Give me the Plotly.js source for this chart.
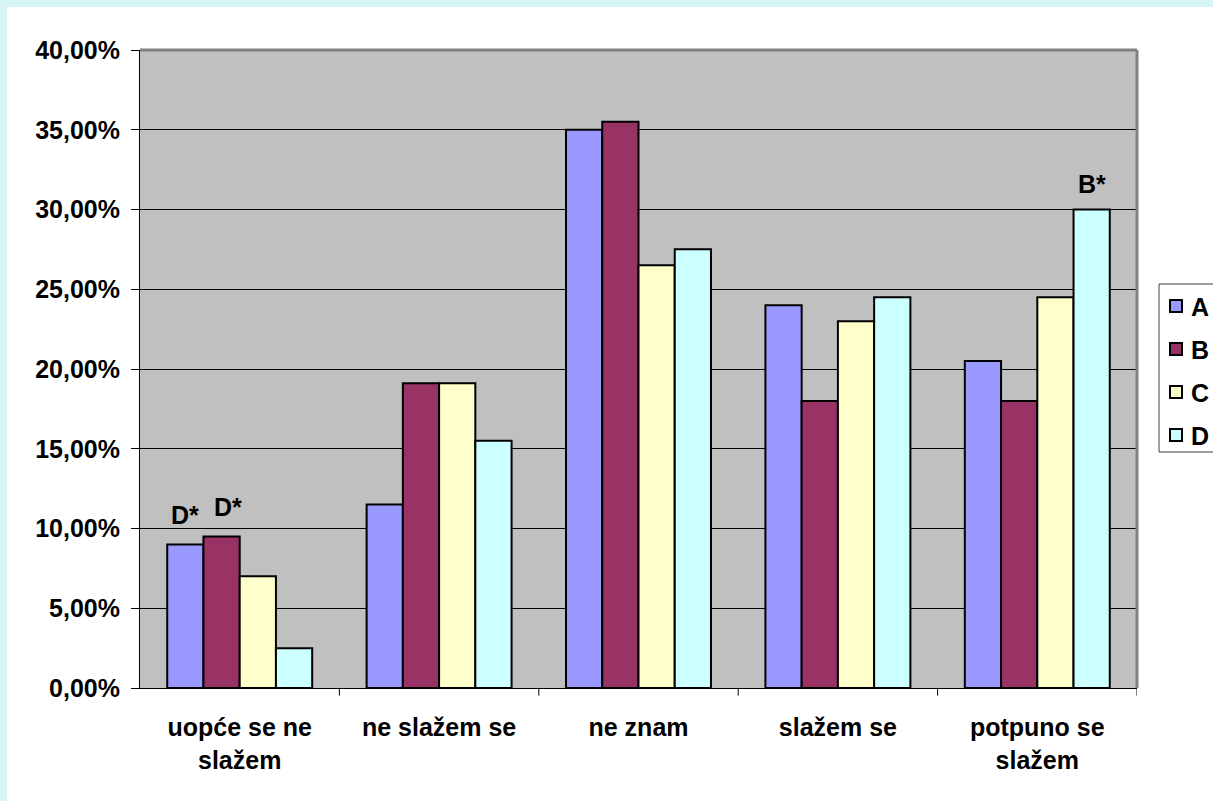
<!DOCTYPE html>
<html>
<head>
<meta charset="utf-8">
<script src="https://cdn.plot.ly/plotly-3.0.1.min.js"></script>
<style>
  html, body { margin: 0; padding: 0; width: 1213px; height: 801px; overflow: hidden;
    background: #d4f4f6; }
  #chart { position: absolute; left: 7px; top: 7px; width: 1206px; height: 794px; background: #fff; }
</style>
</head>
<body>
<div id="chart"></div>
<script>
const categories = ["uopće se ne<br>slažem", "ne slažem se", "ne znam", "slažem se", "potpuno se<br>slažem"];
const seriesNames = ["A", "B", "C", "D"];
const valuesA = [0.090, 0.115, 0.350, 0.240, 0.205];
const valuesB = [0.095, 0.191, 0.355, 0.180, 0.180];
const valuesC = [0.070, 0.191, 0.265, 0.230, 0.245];
const valuesD = [0.025, 0.155, 0.275, 0.245, 0.300];
const colors = ["#9999ff", "#993366", "#ffffcc", "#ccffff"];
const allValues = [valuesA, valuesB, valuesC, valuesD];
// annotation labels: [category index, series index, text]
const marks = [[0, 0, "D*"], [0, 1, "D*"], [4, 3, "B*"]];

const bargap = 0.273;
const barW = (1 - bargap) / 4;

const traces = allValues.map((vals, i) => ({
  type: "bar",
  name: seriesNames[i],
  x: categories.map((c, k) => k),
  y: vals,
  marker: { color: colors[i], line: { color: "#000", width: 2 } },
  hoverinfo: "none",
  showlegend: false
}));

const font = "Liberation Sans, Arial, sans-serif";

// plot-area pixel frame (inside the page) used to place the legend box
const PX0 = 140, PX1 = 1137, PY0 = 50, PY1 = 688;
const px = v => (v - PX0) / (PX1 - PX0);
const py = v => (PY1 - v) / (PY1 - PY0);

const annotations = marks.map(([ci, si, txt]) => ({
  xref: "x", yref: "y",
  x: ci + (si - 1.5) * barW,
  y: allValues[si][ci],
  text: "<b>" + txt + "</b>",
  showarrow: false,
  yanchor: "bottom",
  yshift: (ci === 4) ? 10 : 13,
  xshift: (ci === 0 && si === 1) ? 6 : 0,
  font: { family: font, size: 25, color: "#000" }
}));

// manual legend (box, swatches, labels)
const legendShapes = [{
  type: "rect", xref: "paper", yref: "paper",
  x0: px(1159), x1: px(1240), y0: py(452), y1: py(284),
  line: { color: "#404040", width: 1 }, fillcolor: "#ffffff", layer: "above"
}];
seriesNames.forEach((n, i) => {
  const cy = 306 + 43 * i;
  legendShapes.push({
    type: "rect", xref: "paper", yref: "paper",
    x0: px(1170), x1: px(1182), y0: py(cy + 6), y1: py(cy - 6),
    line: { color: "#000", width: 2 }, fillcolor: colors[i], layer: "above"
  });
  annotations.push({
    xref: "paper", yref: "paper",
    x: px(1189), y: py(cy + 1),
    xanchor: "left", yanchor: "middle",
    text: "<b>" + n + "</b>",
    showarrow: false,
    font: { family: font, size: 25, color: "#000" }
  });
});

const layout = {
  width: 1206, height: 794,
  margin: { l: 133, r: 76, t: 43, b: 113, autoexpand: false },
  paper_bgcolor: "#ffffff",
  plot_bgcolor: "#c0c0c0",
  barmode: "group",
  bargap: bargap,
  bargroupgap: 0,
  separators: ",.",
  font: { family: font, size: 24, color: "#000" },
  xaxis: {
    type: "linear",
    range: [-0.5, 4.5],
    tickmode: "array",
    tickvals: [0, 1, 2, 3, 4],
    ticktext: categories.map(c => "<b>" + c + "</b>"),
    ticks: "",
    showgrid: false,
    zeroline: false,
    showline: true, linecolor: "#000", linewidth: 1,
    tickfont: { family: font, size: 25, color: "#000" },
    ticklabelstandoff: 17
  },
  yaxis: {
    range: [0, 0.4],
    dtick: 0.05,
    tickformat: ".2%",
    ticks: "outside", ticklen: 8, tickcolor: "#000", tickwidth: 1,
    showgrid: true, gridcolor: "#000", gridwidth: 1,
    zeroline: false,
    showline: true, linecolor: "#000", linewidth: 1,
    tickfont: { family: font, size: 25, color: "#000" },
    ticklabelstandoff: 6,
    tickprefix: "<b>", ticksuffix: "</b>"
  },
  showlegend: false,
  shapes: [
    { type: "line", xref: "paper", yref: "paper", x0: 0, x1: 1, y0: 1, y1: 1, line: { color: "#808080", width: 3 } },
    { type: "line", xref: "paper", yref: "paper", x0: 1, x1: 1, y0: 0, y1: 1, line: { color: "#808080", width: 3 } }
  ].concat([0.5, 1.5, 2.5, 3.5, 4.5].map(v => ({
    type: "line", xref: "x", yref: "paper", x0: v, x1: v, y0: 0, y1: -0.012,
    line: { color: "#000", width: 1 }
  }))).concat(legendShapes),
  annotations: annotations
};

Plotly.newPlot("chart", traces, layout, { displayModeBar: false, staticPlot: true });
</script>
</body>
</html>
